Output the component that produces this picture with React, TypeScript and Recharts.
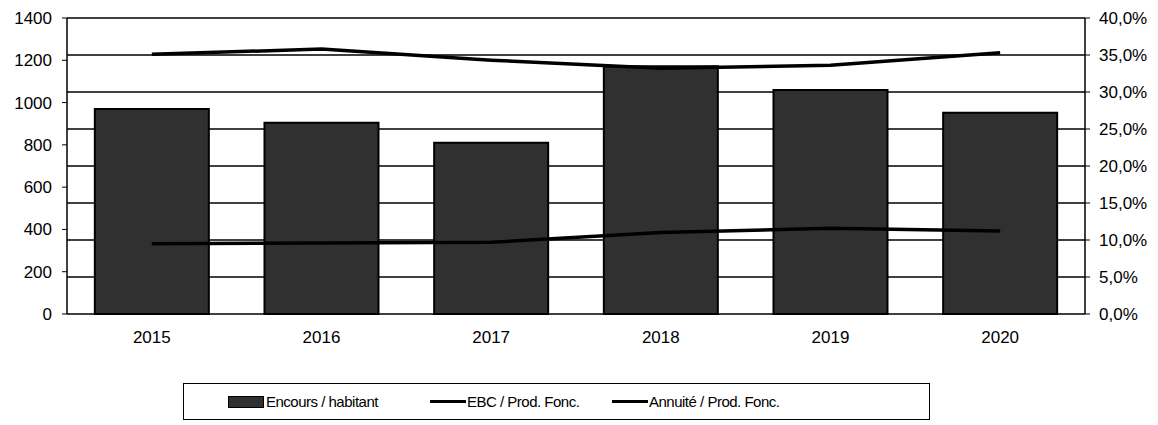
import {
    ComposedChart, Bar, Line, XAxis, YAxis, CartesianGrid, Legend,
} from "recharts";

const years = ["2015", "2016", "2017", "2018", "2019", "2020"];
const encours = [970, 905, 810, 1172, 1060, 952];
const ebc = [35.1, 35.8, 34.3, 33.2, 33.6, 35.3];
const annuite = [9.5, 9.6, 9.7, 11.0, 11.6, 11.2];

const leftTicks = [0, 200, 400, 600, 800, 1000, 1200, 1400];
const rightTicks = [0, 5, 10, 15, 20, 25, 30, 35, 40];
const edgeTicks = [0, 1, 2, 3, 4, 5, 6];

const seriesNames = ["Encours / habitant", "EBC / Prod. Fonc.", "Annuité / Prod. Fonc."];

const font = "'Liberation Sans', Arial, sans-serif";
const barFill = "#303030";

const data = years.map((y, i) => ({
    year: y,
    encours: encours[i],
    ebc: ebc[i],
    annuite: annuite[i],
}));

const fmtPct = (v: number) => `${v.toFixed(1).replace(".", ",")}%`;

// Excel-like boxed legend
function LegendBox() {
    const swatchLine = { display: "inline-block", width: 36, height: 3, background: "#000", marginRight: 1 };
    const item = { display: "flex", alignItems: "center" };
    return (
        <div style={{
            marginLeft: 183, width: 747, height: 37, border: "1px solid #000", paddingLeft: 44,
            display: "flex", alignItems: "center",
            fontFamily: font, fontSize: 15, letterSpacing: -0.5, color: "#000", boxSizing: "border-box",
        }}>
            <span style={{ ...item, width: 202 }}>
                <span style={{ display: "inline-block", width: 34, height: 10, background: barFill, border: "1px solid #000", marginRight: 2 }} />
                {seriesNames[0]}
            </span>
            <span style={{ ...item, width: 182 }}>
                <span style={swatchLine} />
                {seriesNames[1]}
            </span>
            <span style={item}>
                <span style={swatchLine} />
                {seriesNames[2]}
            </span>
        </div>
    );
}

export default function App() {
    return (
        <div style={{ position: "absolute", left: 0, top: 0, width: 1158, height: 425, background: "#fff" }}>
            <ComposedChart
                width={1158}
                height={425}
                data={data}
                margin={{ top: 18, right: 0, left: 0, bottom: 4 }}
                barCategoryGap="16.4%"
            >
                <CartesianGrid yAxisId="pct" xAxisId="cat" vertical={false} stroke="#000" strokeWidth={1.5} />
                <XAxis
                    xAxisId="edges"
                    type="number"
                    domain={[0, 6]}
                    ticks={edgeTicks}
                    allowDataOverflow
                    height={0}
                    tickFormatter={() => ""}
                    tickSize={5}
                    axisLine={{ stroke: "#000", strokeWidth: 1.5 }}
                    tickLine={{ stroke: "#000" }}
                />
                <XAxis
                    xAxisId="cat"
                    dataKey="year"
                    height={69}
                    axisLine={false}
                    tickLine={false}
                    tickMargin={11}
                    tick={{ fontSize: 17, fill: "#000", fontFamily: font }}
                />
                <YAxis
                    yAxisId="val"
                    orientation="left"
                    width={67}
                    domain={[0, 1400]}
                    ticks={leftTicks}
                    tickSize={5}
                    tickMargin={10}
                    tick={{ fontSize: 17, fill: "#000", fontFamily: font }}
                    axisLine={{ stroke: "#000", strokeWidth: 1.5 }}
                    tickLine={{ stroke: "#000" }}
                />
                <YAxis
                    yAxisId="pct"
                    orientation="right"
                    width={73}
                    domain={[0, 40]}
                    ticks={rightTicks}
                    tickFormatter={fmtPct}
                    tickSize={5}
                    tickMargin={9}
                    tick={{ fontSize: 17, fill: "#000", fontFamily: font, textAnchor: "start" }}
                    axisLine={{ stroke: "#000", strokeWidth: 1.5 }}
                    tickLine={{ stroke: "#000" }}
                />
                <Bar
                    xAxisId="cat"
                    yAxisId="val"
                    dataKey="encours"
                    name={seriesNames[0]}
                    fill={barFill}
                    stroke="#000"
                    strokeWidth={2}
                    isAnimationActive={false}
                />
                <Line
                    xAxisId="cat"
                    yAxisId="pct"
                    type="linear"
                    dataKey="ebc"
                    name={seriesNames[1]}
                    stroke="#000"
                    strokeWidth={3.5}
                    dot={false}
                    isAnimationActive={false}
                />
                <Line
                    xAxisId="cat"
                    yAxisId="pct"
                    type="linear"
                    dataKey="annuite"
                    name={seriesNames[2]}
                    stroke="#000"
                    strokeWidth={3.5}
                    dot={false}
                    isAnimationActive={false}
                />
                <Legend
                    verticalAlign="bottom"
                    height={38}
                    content={() => <LegendBox />}
                    wrapperStyle={{ left: 0, width: 1158 }}
                />
            </ComposedChart>
        </div>
    );
}
